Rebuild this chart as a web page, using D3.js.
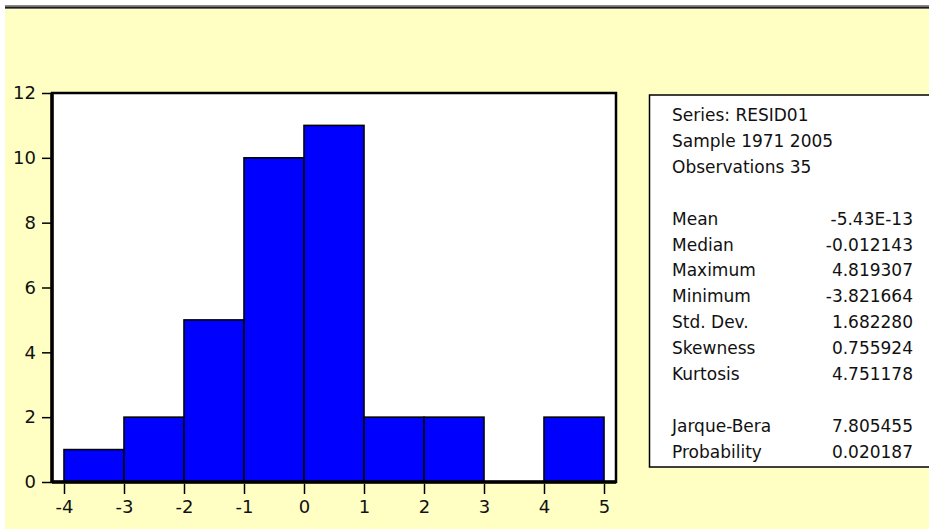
<!DOCTYPE html>
<html>
<head>
<meta charset="utf-8">
<script src="https://cdn.jsdelivr.net/npm/d3@7"></script>
<style>
  html, body { margin: 0; padding: 0; background: #fff; }
  svg { display: block; }
  text { font-family: "DejaVu Sans", sans-serif; fill: #111; }
</style>
</head>
<body>
<svg id="chart" width="929" height="529"></svg>
<script>
// histogram of residuals
const binStarts = [-4, -3, -2, -1, 0, 1, 2, 3, 4]
const counts = [1, 2, 5, 10, 11, 2, 2, 0, 2]
const binWidth = 1
const xTicks = [-4, -3, -2, -1, 0, 1, 2, 3, 4, 5]
const yTicks = [0, 2, 4, 6, 8, 10, 12]

// descriptive stats panel
const headerLines = ['Series: RESID01', 'Sample 1971 2005', 'Observations 35']
const statNames = ['Mean', 'Median', 'Maximum', 'Minimum', 'Std. Dev.', 'Skewness', 'Kurtosis']
const statValues = ['-5.43E-13', '-0.012143', '4.819307', '-3.821664', '1.682280', '0.755924', '4.751178']
const testNames = ['Jarque-Bera', 'Probability']
const testValues = ['7.805455', '0.020187']

var svg = d3.select('#chart')

// window background + dark strip on top
svg.append('rect').attr('x', 5).attr('y', 9).attr('width', 924).attr('height', 520).attr('fill', '#ffffc4')
svg.append('rect').attr('x', 5).attr('y', 5).attr('width', 924).attr('height', 1.5).attr('fill', '#8a8a8a')
svg.append('rect').attr('x', 5).attr('y', 6.5).attr('width', 924).attr('height', 1.5).attr('fill', '#1c1c1c')
svg.append('rect').attr('x', 5).attr('y', 8).attr('width', 924).attr('height', 1).attr('fill', '#6a6a6a')

var x = d3.scaleLinear().domain([-4.2, 5.2]).range([52, 616])
var y = d3.scaleLinear().domain([0, 12]).range([482, 93])

// plot area
svg.append('rect')
  .attr('x', x(-4.2)).attr('y', y(12))
  .attr('width', x(5.2) - x(-4.2)).attr('height', y(0) - y(12))
  .attr('fill', '#fff')

var bars = binStarts.map(function (d, i) { return {x0: d, x1: d + binWidth, n: counts[i]} })

svg.append('g').selectAll('rect')
  .data(bars.filter(function (d) { return d.n > 0 }))
  .join('rect')
  .attr('x', function (d) { return x(d.x0) })
  .attr('y', function (d) { return y(d.n) })
  .attr('width', function (d) { return x(d.x1) - x(d.x0) })
  .attr('height', function (d) { return y(0) - y(d.n) })
  .attr('fill', '#0000ff')
  .attr('stroke', '#000')
  .attr('stroke-width', 1.6)

// frame
svg.append('rect')
  .attr('x', x(-4.2)).attr('y', y(12))
  .attr('width', x(5.2) - x(-4.2)).attr('height', y(0) - y(12))
  .attr('fill', 'none')
  .attr('stroke', '#000')
  .attr('stroke-width', 2.5)
svg.append('line')
  .attr('x1', x(-4.2)).attr('x2', x(5.2)).attr('y1', y(0)).attr('y2', y(0))
  .attr('stroke', '#000').attr('stroke-width', 3.5)
svg.append('line')
  .attr('x1', x(-4.2)).attr('x2', x(-4.2)).attr('y1', y(12)).attr('y2', y(0))
  .attr('stroke', '#000').attr('stroke-width', 3.5)

var yAxis = svg.append('g')
  .attr('transform', 'translate(' + (x(-4.2) - 1) + ',0)')
  .call(d3.axisLeft(y).tickValues(yTicks).tickSize(9).tickPadding(6).tickFormat(d3.format('d')))
yAxis.select('.domain').remove()

var xAxis = svg.append('g')
  .attr('transform', 'translate(0,' + (y(0) + 2) + ')')
  .call(d3.axisBottom(x).tickValues(xTicks).tickSize(10).tickPadding(6).tickFormat(function (d) { return String(d) }))
xAxis.select('.domain').remove()

svg.selectAll('.tick line').attr('stroke', '#000').attr('stroke-width', 1.5)
svg.selectAll('.tick text')
  .style('font-family', '"DejaVu Sans", sans-serif')
  .style('font-size', '18px')
  .attr('fill', '#111')

// stats box
var box = svg.append('g')
box.append('rect')
  .attr('x', 649.5).attr('y', 95).attr('width', 300).attr('height', 372)
  .attr('fill', '#fff')
  .attr('stroke', '#000').attr('stroke-width', 1.5)

var rowH = 25.9
var rowY0 = 121
var labelX = 672
var valueX = 913

var rows = []
headerLines.forEach(function (t, i) { rows.push({label: t, value: '', row: i}) })
statNames.forEach(function (t, i) { rows.push({label: t, value: statValues[i], row: 4 + i}) })
testNames.forEach(function (t, i) { rows.push({label: t, value: testValues[i], row: 12 + i}) })

box.selectAll('text.lbl')
  .data(rows)
  .join('text')
  .attr('class', 'lbl')
  .attr('x', labelX)
  .attr('y', function (d) { return rowY0 + d.row * rowH })
  .style('font-size', '17px')
  .text(function (d) { return d.label })

box.selectAll('text.val')
  .data(rows.filter(function (d) { return d.value !== '' }))
  .join('text')
  .attr('class', 'val')
  .attr('x', valueX)
  .attr('y', function (d) { return rowY0 + d.row * rowH })
  .attr('text-anchor', 'end')
  .style('font-size', '17px')
  .text(function (d) { return d.value })
</script>
</body>
</html>
